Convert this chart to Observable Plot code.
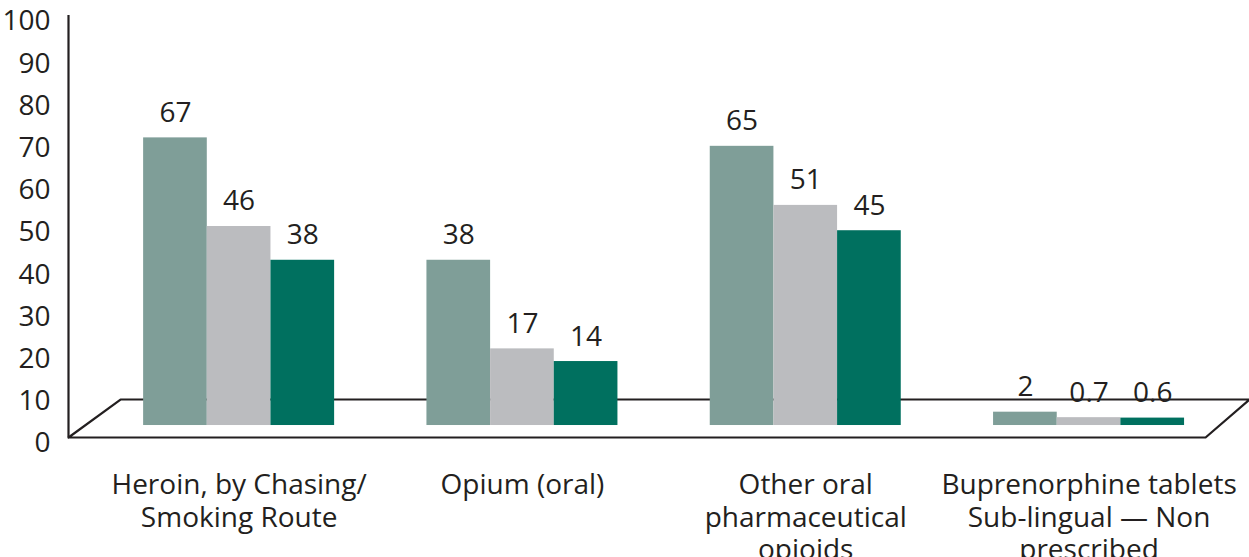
<!DOCTYPE html>
<html>
<head>
<meta charset="utf-8">
<script src="https://cdn.jsdelivr.net/npm/d3@7"></script>
<script src="https://cdn.jsdelivr.net/npm/@observablehq/plot@0.6"></script>
<style>
  html, body { margin: 0; padding: 0; background: #fff; }
  svg { font-family: "Open Sans", sans-serif; }
</style>
</head>
<body>
<div id="chart"></div>
<script>
// ---- data ----
const categories = [
  "Heroin, by Chasing/\nSmoking Route",
  "Opium (oral)",
  "Other oral\npharmaceutical\nopioids",
  "Buprenorphine tablets\nSub-lingual — Non\nprescribed"
];
const seriesNames = ["Series 1", "Series 2", "Series 3"];
const series1 = [67, 38, 65, 2];
const series2 = [46, 17, 51, 0.7];
const series3 = [38, 14, 45, 0.6];
const valueLabels1 = ["67", "38", "65", "2"];
const valueLabels2 = ["46", "17", "51", "0.7"];
const valueLabels3 = ["38", "14", "45", "0.6"];
const yTicks = [0, 10, 20, 30, 40, 50, 60, 70, 80, 90, 100];

// ---- style / layout ----
const colors = ["#7f9e98", "#bbbcbf", "#00705f"];
const ink = "#231f20";
const groupStep = 4.45;      // bar widths per group (3 bars + gap)
const xMin = -1.18, xMax = 17.37;
const baseLift = 2.84;       // 3D depth: bars stand on the floor's middle
const topLift = 4;
const floorDepth = 9.0;

const allSeries = [series1, series2, series3];
const allLabels = [valueLabels1, valueLabels2, valueLabels3];
const rows = [];
categories.forEach((c, g) => {
  allSeries.forEach((s, i) => {
    rows.push({category: c, g, s: i, series: seriesNames[i], value: s[g], label: allLabels[i][g]});
  });
});
const groups = categories.map((c, g) => ({category: c, g}));

const floor = [
  {x: xMin, y: 0},
  {x: xMin + 0.817, y: floorDepth},
  {x: xMax, y: floorDepth},
  {x: xMax - 0.69, y: 0},
  {x: xMin, y: 0}
];

const chart = Plot.plot({
  width: 1249,
  height: 557,
  marginLeft: 68,
  marginRight: 0,
  marginTop: 15,
  marginBottom: 120,
  x: {domain: [xMin, xMax], axis: null},
  y: {domain: [0, 100], axis: null},
  color: {domain: seriesNames, range: colors},
  marks: [
    Plot.line(floor, {x: "x", y: "y", fill: "white", stroke: ink, strokeWidth: 2.2}),
    Plot.ruleX([xMin], {y1: 0, y2: 100, stroke: ink, strokeWidth: 2.2}),
    Plot.rectY(rows, {
      x1: d => d.g * groupStep + d.s,
      x2: d => d.g * groupStep + d.s + 1,
      y1: baseLift,
      y2: d => d.value + topLift,
      fill: "series"
    }),
    Plot.text(rows, {
      x: d => d.g * groupStep + d.s + 0.5,
      y: d => d.value + topLift,
      text: "label",
      dy: -25,
      fontSize: 28,
      fill: ink
    }),
    Plot.axisY({
      ticks: yTicks,
      tickSize: 0,
      tickPadding: 18,
      dy: 6,
      fontSize: 28,
      fill: ink,
      label: null
    }),
    Plot.text(groups, {
      x: d => d.g * groupStep + 1.5,
      y: 0,
      text: "category",
      lineAnchor: "top",
      lineHeight: 1.15,
      dy: 34,
      fontSize: 28,
      fill: ink
    })
  ]
});
document.getElementById("chart").appendChild(chart);
</script>
</body>
</html>
